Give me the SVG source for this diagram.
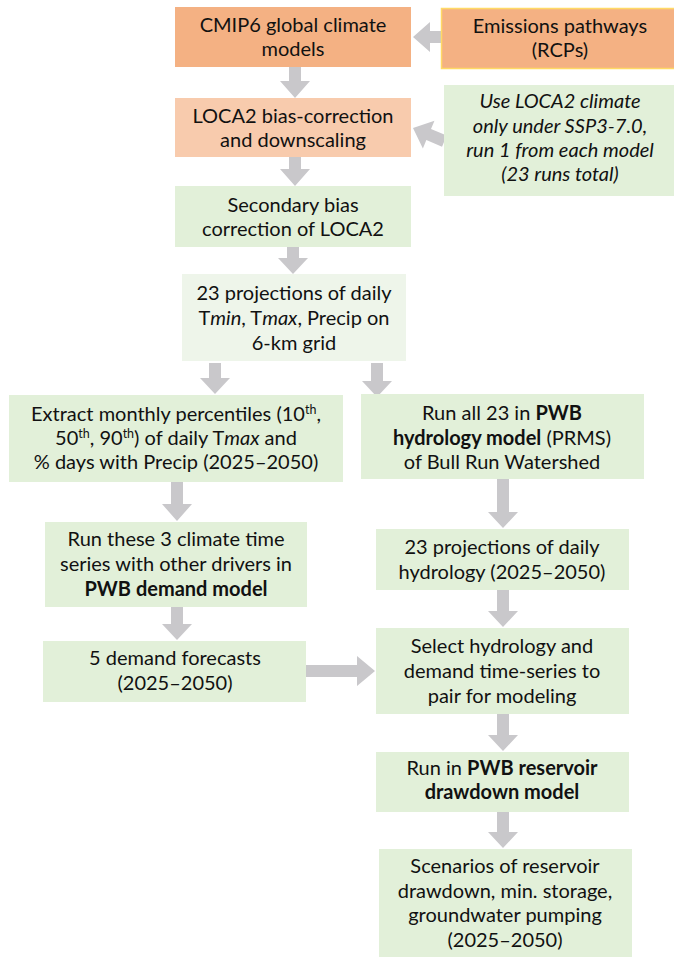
<svg xmlns="http://www.w3.org/2000/svg" width="674" height="957" viewBox="0 0 674 957">
<style>
.or{fill:#F4B183}
.lo{fill:#F8CBAD}
.gr{fill:#E2F0D9}
.lg{fill:#EEF5EA}
.arr{fill:#C9C8CB}
text{font-family:Lato,"Open Sans",sans-serif;font-size:20px;fill:#111;text-anchor:middle}
.b{font-weight:bold}
.i{font-style:italic}
.it{font-style:italic}
.sup{font-size:12.5px}
</style>
<rect width="674" height="957" fill="#fff"/>
<g id="connectors">
<polygon class="arr" points="413,37 430,22 430,31 441,31 441,43 430,43 430,52"/>
<polygon class="arr" points="413,128 430,113 430,122 447,122 447,134 430,134 430,143" transform="rotate(22.75 413 128)"/>
<polygon class="arr" points="289,67 301,67 301,81 310,81 295,98 280,81 289,81"/>
<polygon class="arr" points="289,157 301,157 301,169 310,169 295,186 280,169 289,169"/>
<polygon class="arr" points="287,247 299,247 299,258 308,258 293,274 278,258 287,258"/>
<polygon class="arr" points="209,363 221,363 221,378 230,378 215,394 200,378 209,378"/>
<polygon class="arr" points="371,363 383,363 383,381 392,381 377,397 362,381 371,381"/>
<polygon class="arr" points="171,482 183,482 183,504 192,504 177,521 162,504 171,504"/>
<polygon class="arr" points="171,607 183,607 183,624 192,624 177,640 162,624 171,624"/>
<polygon class="arr" points="497,479 509,479 509,512 518,512 503,528 488,512 497,512"/>
<polygon class="arr" points="497,590 509,590 509,611 518,611 503,627 488,611 497,611"/>
<polygon class="arr" points="306,665 357,665 357,656 375,671 357,686 357,677 306,677"/>
<polygon class="arr" points="497,714 509,714 509,735 518,735 503,751 488,735 497,735"/>
<polygon class="arr" points="497,812 509,812 509,832 518,832 503,848 488,832 497,832"/>
</g>
<g id="cmip6">
<rect class="or" x="175" y="7" width="236" height="60"/>
<text x="293" y="32">CMIP6 global climate</text>
<text x="293" y="56">models</text>
</g>
<g id="emissions">
<rect class="or" x="441.5" y="8.5" width="240" height="60" stroke="#FFD966" stroke-width="1.5"/>
<text x="560" y="33">Emissions pathways</text>
<text x="560" y="57">(RCPs)</text>
</g>
<g id="loca2">
<rect class="lo" x="175" y="98" width="236" height="59"/>
<text x="293" y="123">LOCA2 bias-correction</text>
<text x="293" y="147">and downscaling</text>
</g>
<g id="use-loca2">
<rect class="gr" x="444" y="85" width="240" height="111"/>
<text class="it" x="560" y="108">Use LOCA2 climate</text>
<text class="it" x="560" y="133">only under SSP3-7.0,</text>
<text class="it" x="560" y="157">run 1 from each model</text>
<text class="it" x="560" y="181">(23 runs total)</text>
</g>
<g id="secondary">
<rect class="gr" x="175" y="186" width="236" height="61"/>
<text x="293" y="212">Secondary bias</text>
<text x="293" y="236">correction of LOCA2</text>
</g>
<g id="projections">
<rect class="lg" x="182" y="274" width="224" height="87"/>
<text x="294" y="300">23 projections of daily</text>
<text x="294" y="325">T<tspan class="i">min</tspan>, T<tspan class="i">max</tspan>, Precip on</text>
<text x="294" y="350">6-km grid</text>
</g>
<g id="extract">
<rect class="gr" x="9" y="395" width="334" height="87"/>
<text x="176" y="421">Extract monthly percentiles (10<tspan class="sup" dy="-7">th</tspan><tspan dy="7">,</tspan></text>
<text x="176" y="445">50<tspan class="sup" dy="-7">th</tspan><tspan dy="7">, 90</tspan><tspan class="sup" dy="-7">th</tspan><tspan dy="7">) of daily T</tspan><tspan class="i">max</tspan> and</text>
<text x="176" y="469">% days with Precip (2025–2050)</text>
</g>
<g id="run-all">
<rect class="gr" x="361" y="394" width="283" height="85"/>
<text x="502" y="420">Run all 23 in <tspan class="b">PWB</tspan></text>
<text x="502" y="445"><tspan class="b">hydrology model</tspan> (PRMS)</text>
<text x="502" y="469">of Bull Run Watershed</text>
</g>
<g id="run-these">
<rect class="gr" x="45" y="522" width="262" height="85"/>
<text x="176" y="546">Run these 3 climate time</text>
<text x="176" y="571">series with other drivers in</text>
<text class="b" x="176" y="596">PWB demand model</text>
</g>
<g id="demand-forecasts">
<rect class="gr" x="43" y="641" width="263" height="61"/>
<text x="175" y="665">5 demand forecasts</text>
<text x="175" y="690">(2025–2050)</text>
</g>
<g id="hydro-projections">
<rect class="gr" x="376" y="529" width="253" height="61"/>
<text x="502" y="554">23 projections of daily</text>
<text x="502" y="579">hydrology (2025–2050)</text>
</g>
<g id="select">
<rect class="gr" x="376" y="628" width="253" height="86"/>
<text x="502" y="653">Select hydrology and</text>
<text x="502" y="678">demand time-series to</text>
<text x="502" y="703">pair for modeling</text>
</g>
<g id="run-reservoir">
<rect class="gr" x="376" y="752" width="253" height="60"/>
<text x="502" y="775">Run in <tspan class="b">PWB reservoir</tspan></text>
<text class="b" x="502" y="799">drawdown model</text>
</g>
<g id="scenarios">
<rect class="gr" x="379" y="849" width="253" height="110"/>
<text x="505" y="873">Scenarios of reservoir</text>
<text x="505" y="898">drawdown, min. storage,</text>
<text x="505" y="922">groundwater pumping</text>
<text x="505" y="947">(2025–2050)</text>
</g>
</svg>
